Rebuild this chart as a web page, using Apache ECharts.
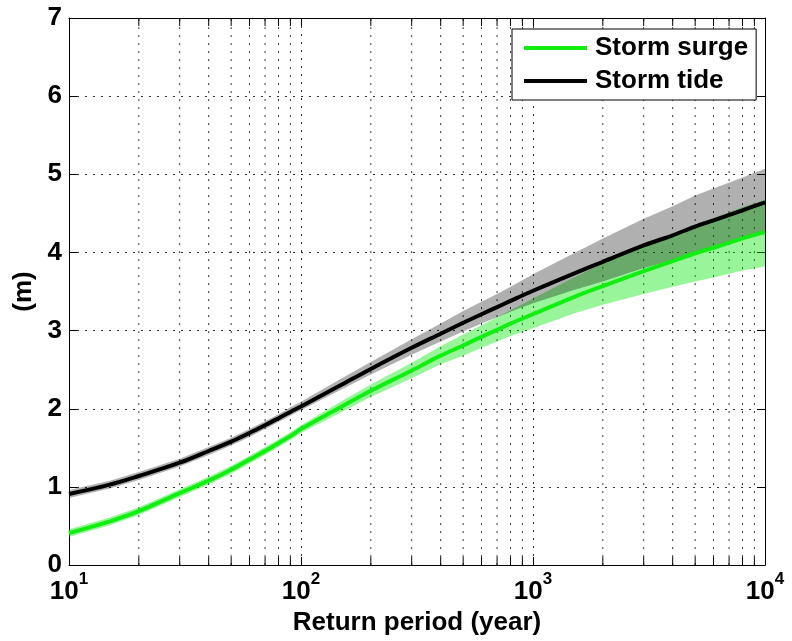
<!DOCTYPE html>
<html>
<head>
<meta charset="utf-8">
<script src="https://cdn.jsdelivr.net/npm/echarts@6/dist/echarts.min.js"></script>
<style>
html,body{margin:0;padding:0;background:#fff;}
#chart{width:792px;height:641px;}
</style>
</head>
<body>
<div id="chart"></div>
<script>
// Return period (years) sample points
const returnPeriod = [10, 15, 20, 30, 40, 50, 60, 70, 80, 90, 100, 150, 200, 300, 400, 500, 600, 700, 800, 1000, 1500, 2000, 3000, 4000, 5000, 6000, 8000, 10000];
// Storm tide (m) and its confidence band
const stormTide     = [0.91, 1.03, 1.14, 1.31, 1.46, 1.58, 1.69, 1.79, 1.88, 1.96, 2.03, 2.31, 2.51, 2.78, 2.96, 3.10, 3.21, 3.30, 3.38, 3.51, 3.73, 3.88, 4.09, 4.22, 4.33, 4.41, 4.54, 4.64];
const stormTideHigh = [0.96, 1.08, 1.19, 1.36, 1.51, 1.63, 1.74, 1.84, 1.93, 2.02, 2.09, 2.39, 2.60, 2.89, 3.09, 3.25, 3.37, 3.47, 3.56, 3.72, 3.99, 4.18, 4.43, 4.59, 4.73, 4.82, 4.96, 5.07];
const stormTideLow  = [0.86, 0.98, 1.09, 1.26, 1.41, 1.53, 1.64, 1.74, 1.83, 1.91, 1.98, 2.25, 2.44, 2.69, 2.86, 2.99, 3.09, 3.17, 3.24, 3.35, 3.52, 3.63, 3.80, 3.90, 3.99, 4.06, 4.17, 4.26];
// Storm surge (m) and its confidence band
const stormSurge     = [0.41, 0.56, 0.69, 0.92, 1.08, 1.22, 1.35, 1.46, 1.56, 1.65, 1.74, 2.03, 2.23, 2.49, 2.68, 2.81, 2.92, 3.01, 3.09, 3.21, 3.43, 3.57, 3.76, 3.89, 3.99, 4.06, 4.18, 4.26];
const stormSurgeHigh = [0.46, 0.61, 0.74, 0.97, 1.13, 1.27, 1.40, 1.51, 1.61, 1.70, 1.79, 2.10, 2.31, 2.59, 2.80, 2.95, 3.07, 3.17, 3.26, 3.41, 3.68, 3.86, 4.09, 4.24, 4.36, 4.44, 4.58, 4.67];
const stormSurgeLow  = [0.36, 0.51, 0.64, 0.87, 1.03, 1.17, 1.30, 1.41, 1.51, 1.60, 1.69, 1.96, 2.15, 2.39, 2.57, 2.68, 2.78, 2.86, 2.93, 3.03, 3.22, 3.33, 3.47, 3.56, 3.63, 3.68, 3.77, 3.82];
// Minor ticks of the log axis
const minorTicksX = [20, 30, 40, 50, 60, 70, 80, 90, 200, 300, 400, 500, 600, 700, 800, 900, 2000, 3000, 4000, 5000, 6000, 7000, 8000, 9000];
const seriesNames = ['Storm surge', 'Storm tide'];
const xTitle = 'Return period (year)';
const yTitle = '(m)';

const FONT = '"Liberation Sans", Arial, Helvetica, sans-serif';
const pairs = (ys) => returnPeriod.map((x, i) => [x, ys[i]]);
const bandData = (lo, hi) => returnPeriod.map((x, i) => [x, lo[i], hi[i]]);

const dotted = { color: '#333', width: 1, type: [2, 6] };

function bandRenderer(fill) {
  return function (params, api) {
    if (params.dataIndexInside !== 0) return null;
    const n = params.dataInsideLength;
    const upper = [], lower = [];
    for (let j = 0; j < n; j++) {
      const x = api.value(0, j);
      lower.push(api.coord([x, api.value(1, j)]));
      upper.push(api.coord([x, api.value(2, j)]));
    }
    const pts = upper.concat(lower.reverse());
    return { type: 'polygon', shape: { points: pts }, style: { fill: fill, stroke: null } };
  };
}

const chart = echarts.init(document.getElementById('chart'), null, { renderer: 'canvas' });

const option = {
  backgroundColor: '#fff',
  animation: false,
  textStyle: { fontFamily: FONT },
  grid: { left: 69, right: 27, top: 18, bottom: 75, containLabel: false },
  legend: {
    data: seriesNames,
    orient: 'vertical',
    left: 512, top: 29,
    padding: [4, 8, 4, 12],
    itemWidth: 63, itemHeight: 4, itemGap: 3,
    icon: 'rect',
    borderColor: '#000', borderWidth: 1, backgroundColor: '#fff',
    textStyle: { fontSize: 26, fontWeight: 'bold', color: '#000', fontFamily: FONT, lineHeight: 30, padding: [0, 0, 0, 3] }
  },
  xAxis: [{
    type: 'log', logBase: 10, min: 10, max: 10000, position: 'bottom',
    axisLine: { show: true, onZero: false, lineStyle: { color: '#000', width: 1 } },
    axisTick: { show: true, inside: true, length: 8, lineStyle: { color: '#000' } },
    axisLabel: {
      margin: 6,
      formatter: (v) => '{b|10}{s|' + Math.round(Math.log10(v)) + '}',
      rich: {
        b: { fontSize: 26, fontWeight: 'bold', color: '#000', fontFamily: FONT, verticalAlign: 'bottom', padding: [8, 0, 0, 0] },
        s: { fontSize: 17, fontWeight: 'bold', color: '#000', fontFamily: FONT, verticalAlign: 'top' }
      }
    },
    splitLine: { show: true, lineStyle: dotted },
    name: xTitle, nameLocation: 'middle', nameGap: 40,
    nameTextStyle: { fontSize: 26, fontWeight: 'bold', color: '#000', fontFamily: FONT }
  }, {
    type: 'log', logBase: 10, min: 10, max: 10000, position: 'top',
    axisLine: { show: true, onZero: false, lineStyle: { color: '#000', width: 1 } },
    axisTick: { show: true, inside: true, length: 8, lineStyle: { color: '#000' } },
    axisLabel: { show: false }, splitLine: { show: false }
  }],
  yAxis: [{
    type: 'value', min: 0, max: 7, interval: 1, position: 'left',
    axisLine: { show: true, onZero: false, lineStyle: { color: '#000', width: 1 } },
    axisTick: { show: true, inside: true, length: 8, lineStyle: { color: '#000' } },
    axisLabel: { fontSize: 26, fontWeight: 'bold', color: '#000', fontFamily: FONT, margin: 7 },
    splitLine: { show: true, lineStyle: dotted },
    name: yTitle, nameLocation: 'middle', nameGap: 32, nameRotate: 90,
    nameTextStyle: { fontSize: 26, fontWeight: 'bold', color: '#000', fontFamily: FONT }
  }, {
    type: 'value', min: 0, max: 7, interval: 1, position: 'right',
    axisLine: { show: true, onZero: false, lineStyle: { color: '#000', width: 1 } },
    axisTick: { show: true, inside: true, length: 8, lineStyle: { color: '#000' } },
    axisLabel: { show: false }, splitLine: { show: false }
  }],
  series: [
    {
      type: 'custom', name: 'minorGrid', silent: true, z: 1, clip: false,
      xAxisIndex: 0, yAxisIndex: 0,
      data: minorTicksX.map(v => [v, 0]),
      encode: { x: 0, y: 1 },
      renderItem: function (params, api) {
        const x = api.value(0);
        const pb = api.coord([x, 0]);
        const pt = api.coord([x, 7]);
        return {
          type: 'group',
          children: [
            { type: 'line', shape: { x1: pb[0], y1: pb[1], x2: pt[0], y2: pt[1] }, style: { stroke: '#333', lineWidth: 1, lineDash: [2, 6] } },
            { type: 'line', shape: { x1: pb[0], y1: pb[1], x2: pb[0], y2: pb[1] - 8 }, style: { stroke: '#000', lineWidth: 1 } },
            { type: 'line', shape: { x1: pt[0], y1: pt[1], x2: pt[0], y2: pt[1] + 8 }, style: { stroke: '#000', lineWidth: 1 } }
          ]
        };
      }
    },
    {
      type: 'custom', name: 'surgeBand', silent: true, z: 2,
      xAxisIndex: 0, yAxisIndex: 0,
      data: bandData(stormSurgeLow, stormSurgeHigh),
      encode: { x: 0, y: [1, 2] },
      renderItem: bandRenderer('rgba(0,230,0,0.4)')
    },
    {
      type: 'custom', name: 'tideBand', silent: true, z: 3,
      xAxisIndex: 0, yAxisIndex: 0,
      data: bandData(stormTideLow, stormTideHigh),
      encode: { x: 0, y: [1, 2] },
      renderItem: bandRenderer('rgba(0,0,0,0.31)')
    },
    {
      type: 'line', name: seriesNames[0], data: pairs(stormSurge), color: '#11ee11',
      symbol: 'none', smooth: 0.35, lineStyle: { color: '#11ee11', width: 4 }, z: 4
    },
    {
      type: 'line', name: seriesNames[1], data: pairs(stormTide), color: '#000',
      symbol: 'none', smooth: 0.35, lineStyle: { color: '#000', width: 4 }, z: 5
    }
  ]
};
chart.setOption(option);
</script>
</body>
</html>
